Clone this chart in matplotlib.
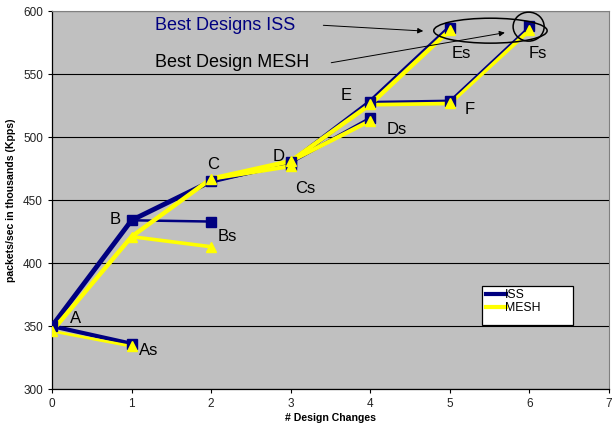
import matplotlib
matplotlib.use("Agg")
import matplotlib.pyplot as plt
from matplotlib.patches import Ellipse, Rectangle
from matplotlib.lines import Line2D

plt.rcParams['font.family'] = ['Liberation Sans', 'DejaVu Sans']

# Main design path A..F and the "s" variant reached from each design
steps = [0, 1, 2, 3, 4, 5]
main_labels = ['A', 'B', 'C', 'D', 'E', 'F']
variant_labels = ['As', 'Bs', 'Cs', 'Ds', 'Es', 'Fs']
iss_main = [350, 434, 465, 480, 528, 529]
mesh_main = [346, 421, 467, 481, 526, 527]
iss_variant = [336, 433, 478, 515, 587, 588]
mesh_variant = [334, 413, 477, 513, 585, 585]

NAVY = '#000080'
YELLOW = '#FFFF00'

W, H = 612, 429
fig = plt.figure(figsize=(W / 100, H / 100), dpi=100)
ax = fig.add_axes([52 / W, 0.093, (609 - 52) / W, 0.881])
ax.set_facecolor('#C0C0C0')

ax.set_xlim(0, 7)
ax.set_ylim(300, 600)
ax.set_xticks(range(0, 8))
ax.set_yticks(range(300, 601, 50))
ax.yaxis.grid(True, color='black', linewidth=0.8)
ax.set_axisbelow(True)
ax.tick_params(labelsize=8.5, direction='out', length=3, width=0.8,
               labelcolor='#222222')
for s in ['top', 'right']:
    ax.spines[s].set_color('#808080')
    ax.spines[s].set_linewidth(0.8)
ax.spines['left'].set_linewidth(0.9)
ax.spines['bottom'].set_linewidth(0.9)

ax.set_xlabel('# Design Changes', fontsize=7.6, fontweight='bold', labelpad=2)
ax.set_ylabel('packets/sec in thousands (Kpps)', fontsize=7.6,
              fontweight='bold', labelpad=5)

# main path: A-B-C-D-E thick, E-F lighter
ax.plot(steps[:5], iss_main[:5], color=NAVY, lw=3.5, zorder=3)
ax.plot(steps[:5], mesh_main[:5], color=YELLOW, lw=3.2, zorder=4)
ax.plot(steps[4:6], mesh_main[4:6], color=YELLOW, lw=3.2, zorder=3)
ax.plot(steps[4:6], iss_main[4:6], color=NAVY, lw=1.5, zorder=4)

# branches to the variant designs
iss_branch_lw = [3.0, 1.8, 2.0, 2.5, 3.5, 1.2]
mesh_branch_lw = [2.0, 2.6, 3.0, 3.0, 3.2, 3.0]
for i, x in enumerate(steps):
    ax.plot([x, x + 1], [iss_main[i], iss_variant[i]],
            color=NAVY, lw=iss_branch_lw[i], zorder=3)
    ax.plot([x, x + 1], [mesh_main[i], mesh_variant[i]],
            color=YELLOW, lw=mesh_branch_lw[i], zorder=4 if i != 5 else 2)

# markers
all_x = steps + [x + 1 for x in steps]
ax.plot(all_x, iss_main + iss_variant, ls='none', marker='s', ms=7,
        color=NAVY, zorder=5)
ax.plot(all_x, mesh_main + mesh_variant, ls='none', marker='^', ms=7,
        color=YELLOW, zorder=6)

# point labels
main_pos = [(0.3, 356), (0.8, 435), (2.02, 478), (2.85, 485), (3.7, 533), (5.25, 522)]
var_pos = [(1.22, 331), (2.2, 421), (3.18, 459), (4.33, 506), (5.14, 566), (6.1, 566)]
for lbl, (tx, ty) in zip(main_labels, main_pos):
    ax.text(tx, ty, lbl, fontsize=12, ha='center', va='center', zorder=7)
for lbl, (tx, ty) in zip(variant_labels, var_pos):
    ax.text(tx, ty, lbl, fontsize=12, ha='center', va='center', zorder=7)

# best-design callouts
ax.text(1.29, 588.5, 'Best Designs ISS', fontsize=13, color=NAVY,
        va='center', zorder=7)
ax.text(1.29, 559.5, 'Best Design MESH', fontsize=13, color='black',
        va='center', zorder=7)
ax.annotate('', xy=(4.7, 584.1), xytext=(3.375, 588.9),
            arrowprops=dict(arrowstyle='-|>', color='black', lw=0.7,
                            mutation_scale=8), zorder=7)
ax.annotate('', xy=(5.725, 583.3), xytext=(3.475, 558.7),
            arrowprops=dict(arrowstyle='-|>', color='black', lw=0.7,
                            mutation_scale=8), zorder=7)
ax.add_patch(Ellipse((5.51, 584.5), 1.425, 19.8, fill=False, ec='black',
                     lw=1.1, zorder=7))
ax.add_patch(Ellipse((5.99, 587.7), 0.39, 23, fill=False, ec='black',
                     lw=1.1, zorder=7))

# legend box with two entries
fig.patches.append(Rectangle((482 / W, 1 - 325 / H), 91 / W, 39 / H,
                             transform=fig.transFigure, fc='white',
                             ec='black', lw=0.9, zorder=9))
handles = [Line2D([], [], color=NAVY, lw=3), Line2D([], [], color=YELLOW, lw=3)]
leg = fig.legend(handles, ['ISS', 'MESH'], loc='upper left',
                 bbox_to_anchor=(484 / W, 1 - 287 / H), fontsize=8.8,
                 frameon=False, handlelength=1.6, handletextpad=-0.1,
                 borderpad=0.2, labelspacing=0.05, borderaxespad=0)
leg.set_zorder(10)

fig.savefig('out.png', dpi=100, facecolor='white')
